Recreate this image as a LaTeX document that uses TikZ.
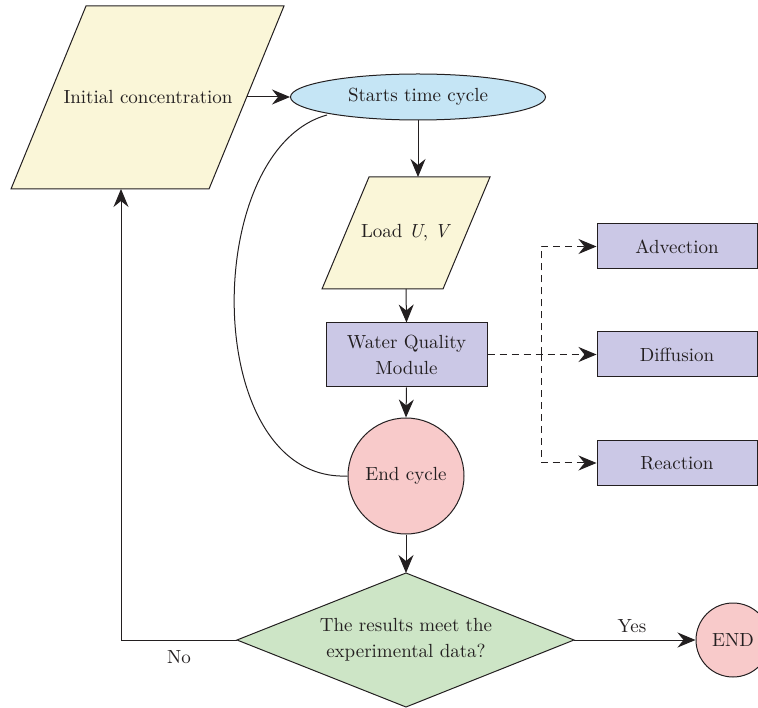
\documentclass[tikz,border=0pt]{standalone}
\usepackage{fontspec}
\setmainfont{lmroman10-regular}[Extension=.otf, ItalicFont=lmroman10-italic, BoldFont=lmroman10-bold]
\usetikzlibrary{arrows.meta,shapes.geometric}
\definecolor{cyel}{HTML}{FAF6D8}
\definecolor{cblue}{HTML}{C5E5F5}
\definecolor{cpurp}{HTML}{CBC8E6}
\definecolor{cpink}{HTML}{F8CACA}
\definecolor{cgreen}{HTML}{CDE5C6}
\definecolor{cline}{HTML}{231F20}
\tikzset{
  base/.style={draw=cline, line width=1pt, font=\fontsize{19}{26}\selectfont, text=cline},
  shp/.style={draw=cline, line width=1pt},
  txt/.style={font=\fontsize{19}{26}\selectfont, text=cline, align=center, inner sep=0pt},
  arr/.style={draw=cline, line width=1pt, -{Stealth[length=18pt,width=15pt,inset=6pt]}},
  darr/.style={draw=cline, line width=1pt, dash pattern=on 7pt off 5pt, -{Stealth[length=18pt,width=15pt,inset=6pt]}},
  boxnode/.style={base, fill=cpurp, rectangle, inner sep=0pt, align=center},
}
\begin{document}
\begin{tikzpicture}[x=1pt,y=-1pt]
\useasboundingbox (0,0) rectangle (758,708);
% Initial concentration parallelogram
\filldraw[shp, fill=cyel] (86,6) -- (284,6) -- (209,189) -- (11,189) -- cycle;
\node[txt] (init) at (148,97) {Initial concentration};
\coordinate (initR) at (247,97);
\coordinate (initB) at (121,189);
% Starts time cycle
\node[base, ellipse, fill=cblue, minimum width=255pt, minimum height=46pt, inner sep=0pt] (start) at (418,97) {Starts time cycle};
% Load U,V
\filldraw[shp, fill=cyel] (369,177) -- (490,177) -- (443,289) -- (322,289) -- cycle;
\node[txt] (load) at (406,233) {Load \textit{U}, \textit{V}};
\coordinate (loadT) at (418,177);
\coordinate (loadB) at (406,289);
% Water quality module
\node[boxnode, minimum width=161pt, minimum height=64pt] (wqm) at (406.5,355) {Water Quality\\Module};
% End cycle
\node[base, circle, fill=cpink, minimum size=116pt, inner sep=0pt] (endc) at (406,476) {End cycle};
% Diamond
\filldraw[shp, fill=cgreen] (406,573) -- (574,640) -- (406,707) -- (237,640) -- cycle;
\coordinate (dT) at (406,573);
\coordinate (dL) at (237,640);
\coordinate (dR) at (574,640);
\coordinate (corner) at (121,640);
\node[txt] (dec) at (406,640) {The results meet the\\experimental data?};
% END
\node[base, circle, fill=cpink, minimum size=74pt, inner sep=0pt] (fin) at (733,640) {END};
% Right boxes
\node[boxnode, minimum width=160pt, minimum height=45pt] (adv) at (677,246.5) {Advection};
\node[boxnode, minimum width=160pt, minimum height=45pt] (dif) at (677,354.5) {Diffusion};
\node[boxnode, minimum width=160pt, minimum height=45pt] (rea) at (677,463) {Reaction};
% labels
\node[txt] (yes) at (632,626) {Yes};
\node[txt] (no) at (179,657) {No};
% connectors
\draw[arr] (initR) -- (start.west);
\draw[arr] (start.south -| loadT) -- (loadT);
\draw[arr] (loadB) -- (wqm.north);
\draw[arr] (wqm.south) -- (endc.north);
\draw[arr] (endc.south) -- (dT);
\draw[arr] (dR) -- (fin.west);
\draw[arr] (dL) -- (corner) -- (initB);
\draw[shp] (327,115) .. controls (200,150) and (200,482) .. (endc.west);
\coordinate (split) at (541,354.5);
\draw[darr] (wqm.east |- dif) -- (dif.west);
\draw[darr] (split) -- (541,246.5) -- (adv.west);
\draw[darr] (split) -- (541,463) -- (rea.west);
\end{tikzpicture}
\end{document}
